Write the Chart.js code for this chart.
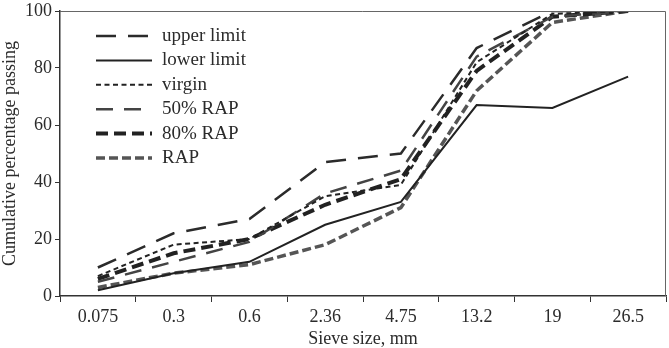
<!DOCTYPE html>
<html>
<head>
<meta charset="utf-8">
<script src="https://cdn.jsdelivr.net/npm/chart.js@4/dist/chart.umd.min.js"></script>
<style>
  body { margin: 0; background: #fff; }
  #wrap { width: 669px; height: 348px; }
</style>
</head>
<body>
<div id="wrap"><canvas id="myChart" width="669" height="348"></canvas></div>
<script>
// sieve sizes (categories on the x axis)
var sieveSizes = ['0.075', '0.3', '0.6', '2.36', '4.75', '13.2', '19', '26.5'];

// cumulative percentage passing
var upperLimit = [10, 22, 27, 47, 50, 87, 100, 100];
var lowerLimit = [2, 8, 12, 25, 33, 67, 66, 77];
var virgin     = [7, 18, 20, 35, 39, 82, 99, 100];
var rap50      = [5, 12, 19, 36, 44, 84, 98, 100];
var rap80      = [6, 15, 20, 32, 41, 79, 98, 100];
var rap        = [3, 8, 11, 18, 31, 72, 96, 100];

var textColor = '#2b2b2b';
var fontFamily = '"Liberation Serif", "Times New Roman", serif';

// legend drawn inside the plot, top left, like the original figure
var legendInside = {
    id: 'legendInside',
    afterDatasetsDraw: function (chart) {
        var ctx = chart.ctx;
        var area = chart.chartArea;
        var x0 = area.left + 36;
        var x1 = area.left + 92;
        chart.data.datasets.forEach(function (ds, i) {
            var y = area.top + 25 + i * 24.4;
            ctx.save();
            ctx.strokeStyle = ds.borderColor;
            ctx.lineWidth = ds.borderWidth;
            ctx.setLineDash(ds.borderDash || []);
            ctx.beginPath();
            ctx.moveTo(x0, y);
            ctx.lineTo(x1, y);
            ctx.stroke();
            ctx.setLineDash([]);
            ctx.fillStyle = textColor;
            ctx.font = '19px ' + fontFamily;
            ctx.textBaseline = 'middle';
            ctx.fillText(ds.label, x1 + 10, y);
            ctx.restore();
        });
    }
};

// box around the plot area
var plotBorder = {
    id: 'plotBorder',
    afterDraw: function (chart) {
        var ctx = chart.ctx;
        var a = chart.chartArea;
        ctx.save();
        ctx.strokeStyle = '#666';
        ctx.lineWidth = 1;
        ctx.beginPath();
        ctx.moveTo(a.left, a.top + 0.5);
        ctx.lineTo(a.right - 0.5, a.top + 0.5);
        ctx.lineTo(a.right - 0.5, a.bottom);
        ctx.stroke();
        ctx.restore();
    }
};

function serie(label, data, color, width, dash) {
    return {
        label: label,
        data: data,
        borderColor: color,
        backgroundColor: color,
        borderWidth: width,
        borderDash: dash,
        fill: false,
        tension: 0,
        pointRadius: 0,
        pointHoverRadius: 0
    };
}

const ctx = document.getElementById('myChart').getContext('2d');
const myChart = new Chart(ctx, {
    type: 'line',
    data: {
        labels: sieveSizes,
        datasets: [
            serie('upper limit', upperLimit, '#2b2b2b', 2.5, [20, 12]),
            serie('lower limit', lowerLimit, '#222', 2, []),
            serie('virgin', virgin, '#222', 2, [5, 3.5]),
            serie('50% RAP', rap50, '#444', 2.5, [17, 11]),
            serie('80% RAP', rap80, '#222', 4, [12, 6]),
            serie('RAP', rap, '#555', 3.5, [9, 4])
        ]
    },
    options: {
        responsive: false,
        animation: false,
        layout: {
            padding: { top: 11, right: 3, left: 0, bottom: 0 }
        },
        plugins: {
            legend: { display: false },
            tooltip: { enabled: false }
        },
        scales: {
            x: {
                type: 'category',
                offset: true,
                afterFit: function (scale) { scale.height = 52; },
                grid: {
                    offset: true,
                    drawOnChartArea: false,
                    tickLength: 6,
                    color: '#333'
                },
                border: { color: '#333', width: 1.5 },
                ticks: {
                    color: textColor,
                    padding: 4,
                    maxRotation: 0,
                    autoSkip: false,
                    font: { family: fontFamily, size: 18 }
                },
                title: {
                    display: true,
                    text: 'Sieve size, mm',
                    color: textColor,
                    padding: { top: 0, bottom: 0 },
                    font: { family: fontFamily, size: 18, lineHeight: 1 }
                }
            },
            y: {
                min: 0,
                max: 100,
                afterFit: function (scale) {
                    scale.width = 60;
                    // the "100" label may overhang the top, as in the figure
                    scale.paddingTop = 0;
                    scale.paddingBottom = 0;
                },
                grid: {
                    drawOnChartArea: false,
                    tickLength: 5,
                    color: '#333'
                },
                border: { color: '#333', width: 1.5 },
                ticks: {
                    stepSize: 20,
                    color: textColor,
                    padding: 3,
                    font: { family: fontFamily, size: 18 }
                },
                title: {
                    display: true,
                    text: 'Cumulative percentage passing',
                    color: textColor,
                    padding: { top: 0, bottom: 0 },
                    font: { family: fontFamily, size: 18, lineHeight: 1.15 }
                }
            }
        }
    },
    plugins: [legendInside, plotBorder]
});
</script>
</body>
</html>
